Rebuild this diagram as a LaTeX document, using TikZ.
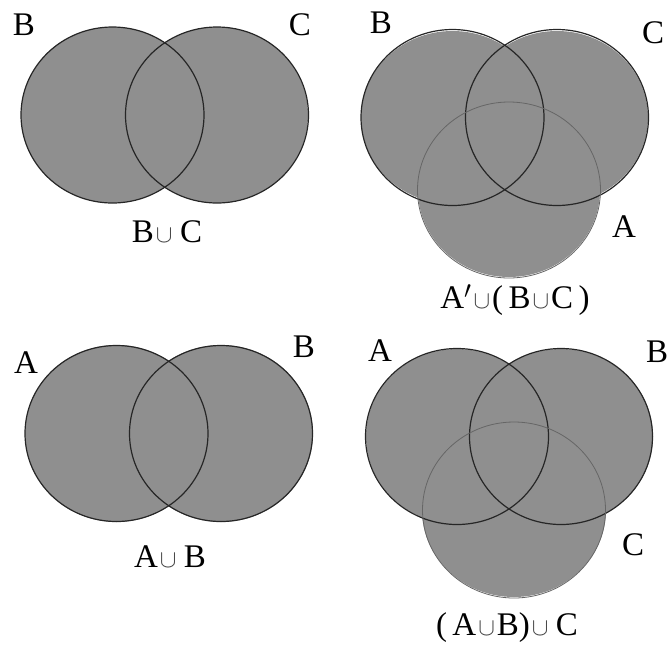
\documentclass[tikz,border=0pt]{standalone}
\usepackage{fontspec}
\setmainfont{Liberation Serif}
\usetikzlibrary{shapes.geometric}

\tikzset{
  setfill/.style={fill=black!44},
  setline/.style={ellipse, draw=black!85, line width=1.2pt, inner sep=0pt,
                  minimum width=183pt, minimum height=176pt},
  thirdline/.style={setline, draw=black!60, line width=0.8pt},
  setlabel/.style={font=\fontsize{33}{38}\selectfont, inner sep=0pt, anchor=base},
}
\newcommand{\un}{\hspace{2pt}{\color{black!75}\fontsize{42}{42}\selectfont$\cup$}\hspace{2pt}}

\begin{document}
\begin{tikzpicture}[x=1pt, y=-1pt]
  \useasboundingbox (0,0) rectangle (669,646);
  % Panel 1 : B u C
  \fill[setfill] (112.5,115) ellipse (91.5 and 88);
  \fill[setfill] (217,115) ellipse (91 and 88);
  \node[setline] (pB) at (112.5,115) {};
  \node[setline] (pC) at (217,115) {};
  \node[setlabel] (lB) at (24,35.5) {B};
  \node[setlabel] (lC) at (300,35) {C};
  \node[setlabel] (cap1) at (167,242) {B\un\,C};
  % Panel 2 : A' u (B u C)
  \fill[setfill] (452.5,117.5) ellipse (91.5 and 86.5);
  \fill[setfill] (557,117.5) ellipse (91 and 86.5);
  \fill[setfill] (509,190) ellipse (91 and 87);
  \node[setline] (qB) at (452.5,117.5) {};
  \node[setline] (qC) at (557,117.5) {};
  \node[thirdline] (qA) at (509,190) {};
  \node[setlabel] (mB) at (381,33) {B};
  \node[setlabel] (mC) at (653,43) {C};
  \node[setlabel] (mA) at (624,237) {A};
  \node[setlabel] (cap2) at (515,308) {A$'$\un(\,B\un C\,)};
  % Panel 3 : A u B
  \fill[setfill] (116.5,433.5) ellipse (91.5 and 88.5);
  \fill[setfill] (221,433.5) ellipse (92 and 88.5);
  \node[setline] (rA) at (116.5,433.5) {};
  \node[setline] (rB) at (221,433.5) {};
  \node[setlabel] (nA) at (26,373) {A};
  \node[setlabel] (nB) at (304,357) {B};
  \node[setlabel] (cap3) at (170,567) {A\un\,B};
  % Panel 4 : (A u B) u C
  \fill[setfill] (457,436.5) ellipse (91 and 87.5);
  \fill[setfill] (561,436.5) ellipse (92 and 87.5);
  \fill[setfill] (514,510) ellipse (92 and 87);
  \node[setline] (sA) at (457,436.5) {};
  \node[setline] (sB) at (561,436.5) {};
  \node[thirdline] (sC) at (514,510) {};
  \node[setlabel] (oA) at (380,361) {A};
  \node[setlabel] (oB) at (657,362) {B};
  \node[setlabel] (oC) at (633,555) {C};
  \node[setlabel] (cap4) at (507,635) {(\,A\un B)\un\,C};
\end{tikzpicture}
\end{document}
